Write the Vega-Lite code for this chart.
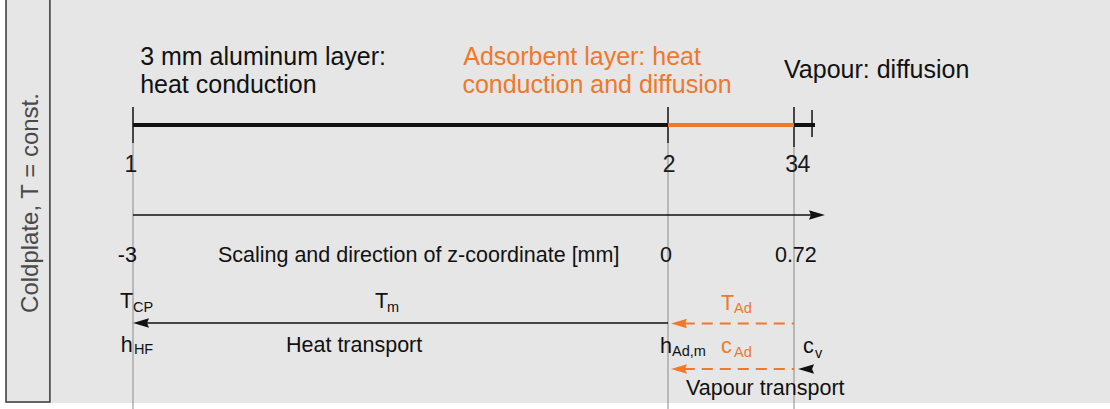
{
  "$schema": "https://vega.github.io/schema/vega-lite/v6.json",
  "width": 1110,
  "height": 409,
  "padding": 0,
  "autosize": {"type": "none"},
  "background": "#ffffff",
  "config": {
    "view": {"stroke": null},
    "axis": {"disable": true},
    "legend": {"disable": true},
    "text": {"font": "Liberation Sans"}
  },
  "datasets": {
    "labels": [
      {"text": "3 mm aluminum layer:", "role": "heading", "phase": "solid", "z": -2.96, "row": 65},
      {"text": "heat conduction", "role": "heading", "phase": "solid", "z": -2.96, "row": 93},
      {"text": "Adsorbent layer: heat", "role": "heading", "phase": "adsorbent", "z": -1.148, "row": 65},
      {"text": "conduction and diffusion", "role": "heading", "phase": "adsorbent", "z": -1.153, "row": 93},
      {"text": "Vapour: diffusion", "role": "heading", "phase": "vapour", "z": 0.663, "row": 78},
      {"text": "-3", "role": "body", "phase": "solid", "z": -3.085, "row": 262},
      {"text": "Scaling and direction of z-coordinate [mm]", "role": "body", "phase": "solid", "z": -2.524, "row": 262},
      {"text": "0", "role": "body", "phase": "solid", "z": -0.045, "row": 262},
      {"text": "0.72", "role": "body", "phase": "solid", "z": 0.611, "row": 262},
      {"text": "T", "role": "body", "phase": "solid", "z": -3.073, "row": 308},
      {"text": "CP", "role": "sub", "phase": "solid", "z": -3.0, "row": 312},
      {"text": "T", "role": "body", "phase": "solid", "z": -1.643, "row": 308},
      {"text": "m", "role": "sub", "phase": "solid", "z": -1.576, "row": 312},
      {"text": "h", "role": "body", "phase": "solid", "z": -3.068, "row": 352},
      {"text": "HF", "role": "sub", "phase": "solid", "z": -2.995, "row": 354},
      {"text": "Heat transport", "role": "body", "phase": "solid", "z": -2.142, "row": 352},
      {"text": "h", "role": "body", "phase": "solid", "z": -0.045, "row": 353},
      {"text": "Ad,m", "role": "sub", "phase": "solid", "z": 0.023, "row": 356},
      {"text": "T", "role": "body", "phase": "adsorbent", "z": 0.303, "row": 310},
      {"text": "Ad", "role": "sub", "phase": "adsorbent", "z": 0.377, "row": 313},
      {"text": "c", "role": "body", "phase": "adsorbent", "z": 0.303, "row": 353},
      {"text": "Ad", "role": "sub", "phase": "adsorbent", "z": 0.377, "row": 357},
      {"text": "c", "role": "body", "phase": "vapour", "z": 0.771, "row": 353},
      {"text": "v", "role": "sub", "phase": "vapour", "z": 0.84, "row": 358},
      {"text": "Vapour transport", "role": "body", "phase": "vapour", "z": 0.103, "row": 395}
    ]
  },
  "layer": [
    {
      "data": {"values": [{"part": "plot area", "z": -3.718, "z2": 2.6, "row": 0, "row2": 403}]},
      "mark": {"type": "rect", "fill": "#e6e6e6"},
      "encoding": {
        "x": {"field": "z", "type": "quantitative", "scale": {"type": "linear", "domain": [-3, 0, 0.72], "range": [133, 668, 794], "zero": false, "nice": false}, "axis": null},
        "x2": {"field": "z2"},
        "y": {"field": "row", "type": "quantitative", "scale": {"type": "linear", "domain": [0, 409], "range": [0, 409], "zero": false, "nice": false}, "axis": null},
        "y2": {"field": "row2"}
      }
    },
    {
      "data": {"values": [{"label": "Coldplate, T = const.", "z": -3.712, "z2": -3.466, "row": -3, "row2": 402, "labelZ": -3.532, "labelRow": 203}]},
      "layer": [
        {
          "mark": {"type": "rect", "fill": "#e6e6e6", "stroke": "#3a3a3a", "strokeWidth": 1.5},
          "encoding": {
            "x": {"field": "z", "type": "quantitative"},
            "x2": {"field": "z2"},
            "y": {"field": "row", "type": "quantitative"},
            "y2": {"field": "row2"}
          }
        },
        {
          "mark": {"type": "text", "angle": 270, "align": "center", "baseline": "alphabetic", "fontSize": 24, "color": "#4a4a4a"},
          "encoding": {
            "x": {"field": "labelZ", "type": "quantitative"},
            "y": {"field": "labelRow", "type": "quantitative"},
            "text": {"field": "label"}
          }
        }
      ]
    },
    {
      "data": {"values": [
        {"node": "1", "z": -3, "labelZ": -3.012, "guide": true, "tickTop": 107, "tickBottom": 143, "guideBottom": 409, "labelRow": 172},
        {"node": "2", "z": 0, "labelZ": 0.006, "guide": true, "tickTop": 107, "tickBottom": 143, "guideBottom": 409, "labelRow": 172},
        {"node": "3", "z": 0.72, "labelZ": 0.706, "guide": true, "tickTop": 107, "tickBottom": 147, "guideBottom": 409, "labelRow": 172},
        {"node": "4", "z": 0.823, "labelZ": 0.777, "guide": false, "tickTop": 110, "tickBottom": 137, "guideBottom": 137, "labelRow": 172}
      ]},
      "layer": [
        {
          "transform": [{"filter": "datum.guide"}],
          "mark": {"type": "rule", "color": "#8a8a8a", "strokeWidth": 1},
          "encoding": {
            "x": {"field": "z", "type": "quantitative"},
            "y": {"field": "tickBottom", "type": "quantitative"},
            "y2": {"field": "guideBottom"}
          }
        },
        {
          "mark": {"type": "rule", "color": "#111111", "strokeWidth": 1.5},
          "encoding": {
            "x": {"field": "z", "type": "quantitative"},
            "y": {"field": "tickTop", "type": "quantitative"},
            "y2": {"field": "tickBottom"}
          }
        },
        {
          "mark": {"type": "text", "align": "center", "baseline": "alphabetic", "fontSize": 23, "color": "#1a1a1a"},
          "encoding": {
            "x": {"field": "labelZ", "type": "quantitative"},
            "y": {"field": "labelRow", "type": "quantitative"},
            "text": {"field": "node"}
          }
        }
      ]
    },
    {
      "data": {"values": [
        {"layer": "3 mm aluminum", "phase": "solid", "z": -3, "z2": 0, "row": 125},
        {"layer": "adsorbent", "phase": "adsorbent", "z": 0, "z2": 0.72, "row": 125},
        {"layer": "vapour", "phase": "vapour", "z": 0.72, "z2": 0.84, "row": 125}
      ]},
      "mark": {"type": "rule", "strokeWidth": 4, "strokeCap": "butt"},
      "encoding": {
        "x": {"field": "z", "type": "quantitative"},
        "x2": {"field": "z2"},
        "y": {"field": "row", "type": "quantitative"},
        "color": {"field": "phase", "type": "nominal", "scale": {"domain": ["solid", "adsorbent", "vapour"], "range": ["#111111", "#f0782a", "#111111"]}, "legend": null}
      }
    },
    {
      "data": {"values": [
        {"flow": "z-axis", "phase": "solid", "style": "solid", "z": -3, "z2": 0.85, "row": 215},
        {"flow": "heat transport", "phase": "solid", "style": "solid", "z": -2.96, "z2": 0, "row": 323},
        {"flow": "adsorbent heat", "phase": "adsorbent", "style": "dashed", "z": 0.09, "z2": 0.72, "row": 323.5},
        {"flow": "adsorbent vapour", "phase": "adsorbent", "style": "dashed", "z": 0.09, "z2": 0.72, "row": 369}
      ]},
      "layer": [
        {
          "transform": [{"filter": "datum.style == 'solid'"}],
          "mark": {"type": "rule", "strokeWidth": 1.5},
          "encoding": {
            "x": {"field": "z", "type": "quantitative"},
            "x2": {"field": "z2"},
            "y": {"field": "row", "type": "quantitative"},
            "color": {"field": "phase", "type": "nominal"}
          }
        },
        {
          "transform": [{"filter": "datum.style == 'dashed'"}],
          "mark": {"type": "rule", "strokeWidth": 2, "strokeDash": [11, 7]},
          "encoding": {
            "x": {"field": "z", "type": "quantitative"},
            "x2": {"field": "z2"},
            "y": {"field": "row", "type": "quantitative"},
            "color": {"field": "phase", "type": "nominal"}
          }
        }
      ]
    },
    {
      "data": {"values": [
        {"flow": "z-axis", "phase": "solid", "dir": "right", "z": 0.851, "row": 215},
        {"flow": "heat transport", "phase": "solid", "dir": "left", "z": -2.955, "row": 323},
        {"flow": "adsorbent heat", "phase": "adsorbent", "dir": "left", "z": 0.063, "row": 323.5},
        {"flow": "adsorbent vapour", "phase": "adsorbent", "dir": "left", "z": 0.063, "row": 369},
        {"flow": "vapour", "phase": "vapour", "dir": "left", "z": 0.789, "row": 369}
      ]},
      "mark": {"type": "point", "filled": true, "opacity": 1, "size": 256, "strokeWidth": 0},
      "encoding": {
        "x": {"field": "z", "type": "quantitative"},
        "y": {"field": "row", "type": "quantitative"},
        "color": {"field": "phase", "type": "nominal"},
        "shape": {"field": "dir", "type": "nominal", "scale": {"domain": ["left", "right"], "range": ["M-1,0L1,-0.6L0.75,0L1,0.6Z", "M1,0L-1,-0.6L-0.75,0L-1,0.6Z"]}, "legend": null}
      }
    },
    {
      "data": {"name": "labels"},
      "transform": [{"filter": "datum.role == 'heading'"}],
      "mark": {"type": "text", "align": "left", "baseline": "alphabetic", "fontSize": 25},
      "encoding": {
        "x": {"field": "z", "type": "quantitative"},
        "y": {"field": "row", "type": "quantitative"},
        "text": {"field": "text"},
        "color": {"field": "phase", "type": "nominal"}
      }
    },
    {
      "data": {"name": "labels"},
      "transform": [{"filter": "datum.role == 'body'"}],
      "mark": {"type": "text", "align": "left", "baseline": "alphabetic", "fontSize": 21.5},
      "encoding": {
        "x": {"field": "z", "type": "quantitative"},
        "y": {"field": "row", "type": "quantitative"},
        "text": {"field": "text"},
        "color": {"field": "phase", "type": "nominal"}
      }
    },
    {
      "data": {"name": "labels"},
      "transform": [{"filter": "datum.role == 'sub'"}],
      "mark": {"type": "text", "align": "left", "baseline": "alphabetic", "fontSize": 14.5},
      "encoding": {
        "x": {"field": "z", "type": "quantitative"},
        "y": {"field": "row", "type": "quantitative"},
        "text": {"field": "text"},
        "color": {"field": "phase", "type": "nominal"}
      }
    }
  ]
}
